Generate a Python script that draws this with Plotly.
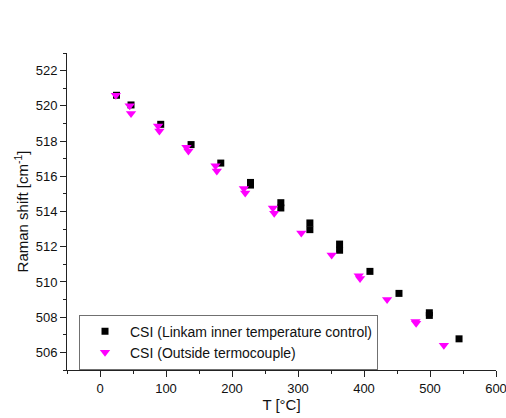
import plotly.graph_objects as go

# Raman shift of the CSI sample vs. temperature, two temperature readings
linkam_T = [25, 47, 92, 138, 183, 228, 228, 274, 274, 318, 318, 363, 363,
            409, 453, 499, 499, 544]
linkam_shift = [520.6, 520.05, 518.95, 517.8, 516.75, 515.65, 515.5, 514.5,
                514.2, 513.35, 512.97, 512.15, 511.8, 510.6, 509.35, 508.25,
                508.1, 506.77]

outside_T = [24, 45, 47, 88, 90, 131, 134, 175, 177, 218, 220, 262, 264,
             305, 351, 392, 394, 435, 478, 479, 521]
outside_shift = [520.6, 520.0, 519.56, 518.85, 518.57, 517.65, 517.43, 516.6,
                 516.3, 515.3, 515.05, 514.2, 513.9, 512.78, 511.53, 510.35,
                 510.2, 509.0, 507.75, 507.65, 506.4]

x_ticks = [0, 100, 200, 300, 400, 500, 600]
y_ticks = [506, 508, 510, 512, 514, 516, 518, 520, 522]

FONT = "Liberation Sans, Arial, sans-serif"

fig = go.Figure()
fig.add_trace(go.Scatter(
    x=linkam_T, y=linkam_shift, mode="markers",
    name="CSI (Linkam inner temperature control)",
    marker=dict(symbol="square", size=7, color="black",
                line=dict(width=0)),
))
fig.add_trace(go.Scatter(
    x=outside_T, y=outside_shift, mode="markers",
    name="CSI (Outside termocouple)",
    marker=dict(symbol="triangle-down", size=9, color="#ff00ff",
                line=dict(width=0)),
))

axis_common = dict(
    showline=True, linecolor="#222222", linewidth=1,
    showgrid=False, zeroline=False,
    ticks="outside", ticklen=6, tickwidth=1, tickcolor="#222222",
    tickfont=dict(family=FONT, size=13, color="#111111"),
    mirror=False, automargin=False, ticklabeloverflow="allow",
)

fig.update_layout(
    width=506, height=418,
    margin=dict(l=67, r=10, t=53, b=48),
    paper_bgcolor="white", plot_bgcolor="white",
    font=dict(family=FONT, color="#111111"),
    xaxis=dict(
        range=[-50, 600], tickvals=x_ticks,
        minor=dict(dtick=50, tick0=0, ticks="outside", ticklen=3,
                   tickcolor="#222222"),
        title=dict(text="T [°C]", font=dict(family=FONT, size=15),
                   standoff=0),
        **axis_common,
    ),
    yaxis=dict(
        range=[505, 523], tickvals=y_ticks,
        minor=dict(dtick=1, tick0=505, ticks="outside", ticklen=3,
                   tickcolor="#222222"),
        title=dict(text="Raman shift [cm<sup>-1</sup>]",
                   font=dict(family=FONT, size=15), standoff=3),
        **axis_common,
    ),
    legend=dict(
        x=0.028, y=0.175, xanchor="left", yanchor="top",
        bordercolor="#707070", borderwidth=1, bgcolor="white",
        font=dict(family=FONT, size=14, color="#111111"),
        tracegroupgap=0, itemwidth=40,
    ),
    showlegend=True,
)

fig.write_html("out.html")
